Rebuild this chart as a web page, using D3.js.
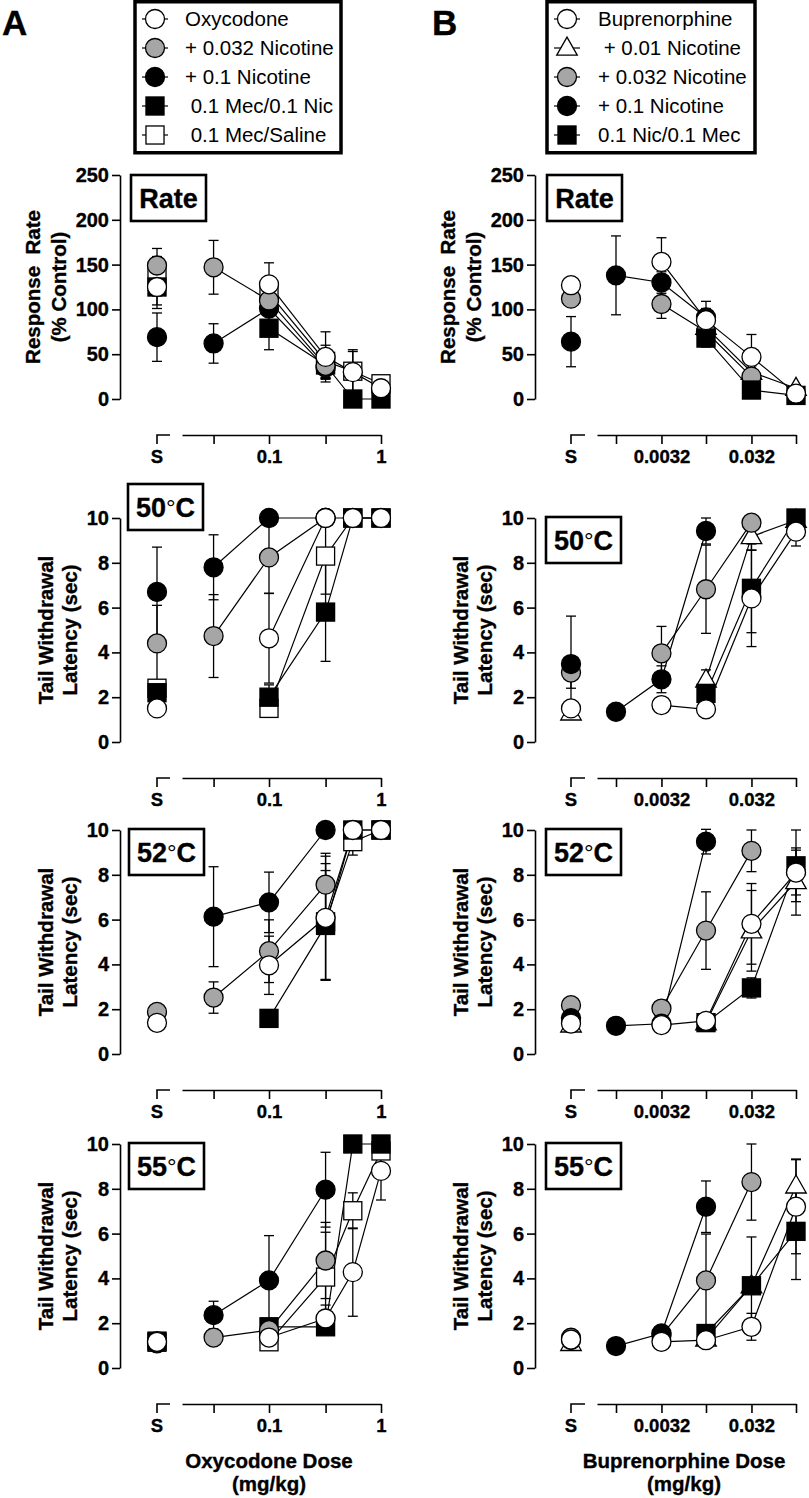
<!DOCTYPE html>
<html><head><meta charset="utf-8">
<script src="https://cdn.jsdelivr.net/npm/d3@7"></script>
<style>
body{margin:0;background:#fff;}
svg text{font-family:"Liberation Sans",Arial,Helvetica,sans-serif;fill:#000;}
svg text.b{font-weight:bold;stroke:#000;stroke-width:0.35px;}
</style></head><body>
<svg id="c" width="809" height="1498"></svg>
<script>
// ---------------- DATA ----------------
const oxyDoses = ["S", 0.032, 0.1, 0.32, 0.56, 1];
const bupDoses = ["S", 0.001, 0.0032, 0.01, 0.032, 0.1];
const oxyTicks = [0.032, 0.1, 0.32, 1];
const bupTicks = [0.001, 0.0032, 0.01, 0.032, 0.1];
const oxyTickText = {0.1: "0.1", 1: "1"};
const bupTickText = {0.0032: "0.0032", 0.032: "0.032"};
const oxySeries = ["Oxycodone", "+ 0.032 Nicotine", "+ 0.1 Nicotine", " 0.1 Mec/0.1 Nic", " 0.1 Mec/Saline"];
const bupSeries = ["Buprenorphine", " + 0.01 Nicotine", "+ 0.032 Nicotine", "+ 0.1 Nicotine", "0.1 Nic/0.1 Mec"];
const panelNums = ["Rate", "50", "52", "55"];
const yMaxes = [250, 10, 10, 10];
const ySteps = [50, 2, 2, 2];

// rows: Oxycodone, +0.032 Nic, +0.1 Nic, 0.1 Mec/0.1 Nic, 0.1 Mec/Saline
const oxyRate = [
  [125, null, 128, 47, 30, 12],
  [149, 147, 110, 37, null, null],
  [69, 62, 101, 35, null, null],
  [125, null, 79, 38, 0, 0],
  [137, null, 118, 42, 31, 17]];
const oxyRateErr = [
  [24, null, 24, 28, 25, 12],
  [19, 30, 8, 14, null, null],
  [27, 22, 6, 12, null, null],
  [20, null, 24, 16, null, null],
  [22, null, 14, 18, 22, 5]];
const oxy50 = [
  [1.5, null, 4.63, 10, 10, 10],
  [4.4, 4.73, 8.24, 10, null, null],
  [6.7, 7.8, 10, 10, null, null],
  [2.2, null, 2.0, 5.8, 10, 10],
  [2.4, null, 1.5, 8.3, 10, 10]];
const oxy50Err = [
  [null, null, 2.0, null, null, null],
  [1.7, 1.85, 1.6, null, null, null],
  [2.0, 1.45, null, null, null, null],
  [0.4, null, 0.55, 2.2, null, null],
  [0.3, null, 0.3, 1.7, null, null]];
const oxy52 = [
  [1.39, null, 3.96, 6.08, 10, 10],
  [1.88, 2.52, 4.59, 7.56, null, null],
  [null, 6.13, 6.77, 10, null, null],
  [null, null, 1.59, 5.74, 10, 10],
  [null, null, null, 5.9, 9.48, 10]];
const oxy52Err = [
  [null, null, 1.3, 2.75, null, null],
  [null, 0.7, 1.4, 1.4, null, null],
  [null, 2.23, 1.35, null, null, null],
  [null, null, null, 2.45, null, null],
  [null, null, null, 2.6, 0.6, null]];
const oxy55 = [
  [1.17, null, 1.36, 2.21, 4.28, 8.8],
  [1.2, 1.36, 1.69, 4.8, null, null],
  [1.1, 2.36, 3.91, 7.96, null, null],
  [1.2, null, 1.84, 1.84, 10, 10],
  [1.15, null, 1.17, 4.06, 7.02, 9.69]];
const oxy55Err = [
  [null, null, null, 0.6, 1.97, 1.3],
  [null, null, null, 1.7, null, null],
  [null, 0.62, 2.0, 1.67, null, null],
  [null, null, null, 0.3, null, null],
  [null, null, null, 2.0, 0.8, null]];

// rows: Buprenorphine, +0.01 Nic, +0.032 Nic, +0.1 Nic, 0.1 Nic/0.1 Mec
const bupRate = [
  [127, null, 153, 88, 47, 6],
  [null, null, null, 80, 30, 12],
  [112, null, 106, 75, 25, null],
  [64, 138, 130, 91, null, null],
  [null, null, null, 68, 10, 4]];
const bupRateErr = [
  [null, null, 27, 21, 25, 5],
  [null, null, null, null, null, 4],
  [null, null, 16, 10, 12, null],
  [28, 44, 12, 10, null, null],
  [null, null, null, 10, 5, null]];
const bup50 = [
  [1.5, null, 1.65, 1.46, 6.41, 9.39],
  [1.3, null, null, 2.77, 9.17, 9.9],
  [3.1, null, 3.96, 6.82, 9.79, null],
  [3.48, 1.35, 2.8, 9.42, null, null],
  [null, null, null, 2.17, 6.86, 10]];
const bup50Err = [
  [null, null, null, null, 2.15, 0.64],
  [null, null, null, 0.45, 0.6, null],
  [0.7, null, 1.2, 1.97, null, null],
  [2.14, null, 0.6, 0.58, null, null],
  [null, null, null, 0.4, 1.98, null]];
const bup52 = [
  [1.36, null, 1.29, 1.48, 5.81, 8.1],
  [1.3, null, null, 1.4, 5.5, 7.7],
  [2.18, null, 2.03, 5.51, 9.07, null],
  [1.6, 1.26, 1.35, 9.48, null, null],
  [null, null, null, 1.4, 2.95, 8.4]];
const bup52Err = [
  [null, null, null, null, 1.8, 1.0],
  [null, null, null, null, 1.8, 1.5],
  [null, null, null, 1.73, 0.93, null],
  [null, null, null, 0.55, null, null],
  [null, null, null, null, 0.45, 1.6]];
const bup55 = [
  [1.27, null, 1.17, 1.24, 1.84, 7.2],
  [1.1, null, null, 1.3, 3.67, 8.13],
  [1.35, null, 1.45, 3.91, 8.3, null],
  [1.25, 0.98, 1.54, 7.2, null, null],
  [null, null, null, 1.54, 3.67, 6.1]];
const bup55Err = [
  [null, null, null, null, 0.6, 2.1],
  [null, null, null, null, null, 1.2],
  [null, null, null, 2.07, 1.7, null],
  [null, null, null, 1.15, null, null],
  [null, null, null, null, 2.18, 2.15]];

// ---------------- STYLE / LAYOUT ----------------
const GRAY = "#a6a6a6";
const oxyShapes = ["circle", "circle", "circle", "square", "square"];
const oxyFills = ["#fff", GRAY, "#000", "#000", "#fff"];
const bupShapes = ["circle", "triangle", "circle", "circle", "square"];
const bupFills = ["#fff", "#fff", GRAY, "#000", "#000"];
const rowTops = [175, 518, 830, 1144];
const plotH = 224;

const cols = [
  {axisX: 120, sX: 157, sEnd: 170, mainStart: 182, dom: [0.1, 1], rng: [269, 381],
   doses: oxyDoses, ticks: oxyTicks, tickText: oxyTickText, shapes: oxyShapes, fills: oxyFills,
   series: oxySeries, order: [4, 3, 2, 1, 0],
   data: [[oxyRate, oxyRateErr], [oxy50, oxy50Err], [oxy52, oxy52Err], [oxy55, oxy55Err]],
   boxes: [[131, 175], [128, 484], [129, 829], [129, 1143]],
   title: ["Oxycodone Dose", "(mg/kg)"], titleX: 269, letter: "A", letterX: 2,
   legend: {x: 135, w: 206, mx: 155, tx: 185}},
  {axisX: 535, sX: 571, sEnd: 585, mainStart: 597, dom: [0.001, 0.1], rng: [616, 796],
   doses: bupDoses, ticks: bupTicks, tickText: bupTickText, shapes: bupShapes, fills: bupFills,
   series: bupSeries, order: [1, 2, 3, 4, 0],
   data: [[bupRate, bupRateErr], [bup50, bup50Err], [bup52, bup52Err], [bup55, bup55Err]],
   boxes: [[547, 175], [546, 517], [546, 829], [546, 1143]],
   title: ["Buprenorphine Dose", "(mg/kg)"], titleX: 684, letter: "B", letterX: 432,
   legend: {x: 547, w: 208, mx: 567, tx: 598}}
];

const svg = d3.select("#c");

function marker(g, shape, fill, cx, cy, size) {
  let m;
  if (shape === "circle") m = g.append("circle").attr("cx", cx).attr("cy", cy).attr("r", size);
  else if (shape === "square") m = g.append("rect").attr("x", cx - size * 0.95).attr("y", cy - size * 0.95).attr("width", size * 1.9).attr("height", size * 1.9);
  else m = g.append("path").attr("d", `M${cx},${cy - size * 1.15}L${cx + size * 1.08},${cy + size * 0.75}L${cx - size * 1.08},${cy + size * 0.75}Z`);
  m.attr("stroke", "#000").attr("stroke-width", 1.3).attr("fill", fill);
}

cols.forEach((c) => {
  const xl = d3.scaleLog().domain(c.dom).range(c.rng);
  const xpos = d => d === "S" ? c.sX : xl(d);
  const xa = xl.copy().domain([xl.invert(c.mainStart), c.dom[1]]).range([c.mainStart, c.rng[1]]);

  // panel letter
  svg.append("text").attr("class", "b").attr("x", c.letterX).attr("y", 35).attr("font-size", 35).text(c.letter);

  // legend
  const lg = svg.append("g");
  lg.append("rect").attr("x", c.legend.x).attr("y", 1.75).attr("width", c.legend.w).attr("height", 151)
    .attr("fill", "#fff").attr("stroke", "#000").attr("stroke-width", 3.5);
  c.series.forEach((name, i) => {
    const ly = 19 + i * 29;
    lg.append("line").attr("x1", c.legend.mx - 13).attr("x2", c.legend.mx + 13).attr("y1", ly).attr("y2", ly)
      .attr("stroke", "#000").attr("stroke-width", 1.2);
    marker(lg, c.shapes[i], c.fills[i], c.legend.mx, ly, 9.5);
    lg.append("text").attr("x", c.legend.tx).attr("y", ly).attr("dy", "0.36em").attr("font-size", 20.5)
      .style("white-space", "pre").text(name);
  });

  rowTops.forEach((top, ri) => {
    const bottom = top + plotH;
    const yMax = yMaxes[ri];
    const y = d3.scaleLinear().domain([0, yMax]).range([bottom, top]);
    const g = svg.append("g");

    // y axis
    const ya = g.append("g").attr("transform", `translate(${c.axisX},0)`)
      .call(d3.axisLeft(y).tickValues(d3.range(0, yMax + 0.001, ySteps[ri])).tickSize(8).tickPadding(3).tickSizeOuter(0));
    ya.selectAll("path,line").attr("stroke", "#000").attr("stroke-width", 1.6);
    ya.selectAll("text").attr("class", "b").attr("font-size", 20).attr("font-family", null);

    // y title
    const ymid = (top + bottom) / 2;
    const lines = ri === 0 ? ["Response  Rate", "(% Control)"] : ["Tail Withdrawal", "Latency (sec)"];
    const offs = ri === 0 ? [-80, -54] : [-67, -43];
    lines.forEach((t, k) => {
      g.append("text").attr("class", "b").attr("transform", `translate(${c.axisX + offs[k]},${ymid}) rotate(-90)`)
        .attr("text-anchor", "middle").attr("font-size", 20.5)
        .style("white-space", "pre").text(t);
    });

    // x axis
    const axY = bottom + 36;
    const xg = g.append("g").attr("transform", `translate(0,${axY})`)
      .call(d3.axisBottom(xa).tickValues(c.ticks).tickFormat(d => c.tickText[d] || "").tickSize(9).tickPadding(6).tickSizeOuter(0));
    xg.selectAll("path,line").attr("stroke", "#000").attr("stroke-width", 1.6);
    xg.selectAll("text").attr("class", "b").attr("font-size", 18.5).attr("font-family", null);
    g.append("path").attr("d", `M${c.sX},${axY + 9}V${axY}H${c.sEnd}`).attr("fill", "none").attr("stroke", "#000").attr("stroke-width", 1.6);
    g.append("text").attr("class", "b").attr("x", c.sX).attr("y", axY + 15).attr("dy", "0.71em").attr("text-anchor", "middle")
      .attr("font-size", 18.5).text("S");

    // panel label box
    const [bx, by] = c.boxes[ri];
    g.append("rect").attr("x", bx).attr("y", by).attr("width", 75).attr("height", 46)
      .attr("fill", "#fff").attr("stroke", "#000").attr("stroke-width", 2.6);
    const lt = g.append("text").attr("class", "b").attr("x", bx + 37.5).attr("y", by + 23).attr("dy", "0.36em").attr("text-anchor", "middle")
      .attr("font-size", 27);
    if (ri === 0) lt.text(panelNums[ri]);
    else {
      lt.append("tspan").text(panelNums[ri]);
      lt.append("tspan").attr("font-weight", "normal").attr("stroke-width", 0).attr("font-size", 24).attr("dy", "-0.05em").text("°");
      lt.append("tspan").attr("dy", "0.05em").text("C");
    }

    const [vals, errs] = c.data[ri];
    // error bars
    c.order.forEach(s => {
      vals[s].forEach((v, i) => {
        const e = errs[s][i];
        if (v == null || e == null) return;
        const cx = xpos(c.doses[i]);
        const y1 = y(Math.max(0, v - e)), y2 = y(v + e);
        g.append("line").attr("x1", cx).attr("x2", cx).attr("y1", y1).attr("y2", y2).attr("stroke", "#000").attr("stroke-width", 1.3);
        [y1, y2].forEach(yy => g.append("line").attr("x1", cx - 5).attr("x2", cx + 5).attr("y1", yy).attr("y2", yy).attr("stroke", "#000").attr("stroke-width", 1.3));
      });
    });
    // lines
    const lineGen = d3.line().x(p => xpos(p.d)).y(p => y(p.v));
    c.order.forEach(s => {
      const pts = c.doses.map((d, i) => ({d, v: vals[s][i]})).filter(p => p.d !== "S" && p.v != null);
      g.append("path").attr("d", lineGen(pts)).attr("fill", "none").attr("stroke", "#000").attr("stroke-width", 1.2);
    });
    // markers
    c.order.forEach(s => {
      vals[s].forEach((v, i) => {
        if (v == null) return;
        marker(g, c.shapes[s], c.fills[s], xpos(c.doses[i]), y(v), 9.5);
      });
    });
  });

  // x title
  svg.append("text").attr("class", "b").attr("x", c.titleX).attr("y", 1468).attr("text-anchor", "middle").attr("font-size", 20.5).text(c.title[0]);
  svg.append("text").attr("class", "b").attr("x", c.titleX).attr("y", 1491).attr("text-anchor", "middle").attr("font-size", 20.5).text(c.title[1]);
});
</script>
</body></html>
